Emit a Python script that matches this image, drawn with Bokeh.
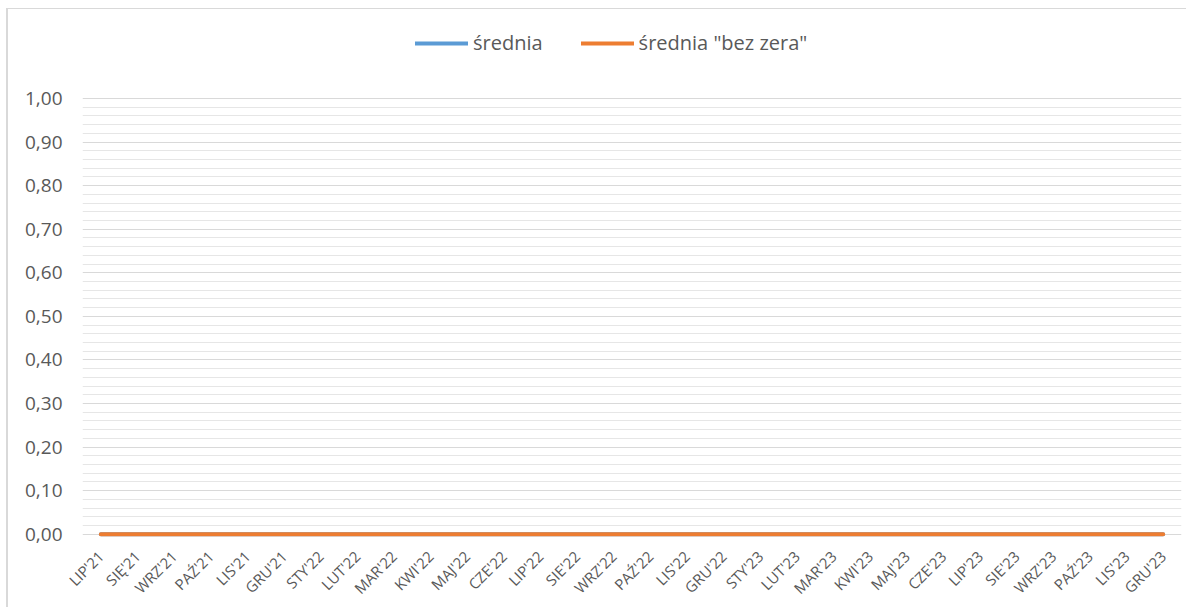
import math
from bokeh.plotting import figure
from bokeh.models import FactorRange, Range1d, FixedTicker, CustomJSTickFormatter, Legend, LegendItem
from bokeh.embed import file_html
from bokeh.resources import INLINE

months = ["LIP'21", "SIĘ'21", "WRZ'21", "PAŹ'21", "LIS'21", "GRU'21",
          "STY'22", "LUT'22", "MAR'22", "KWI'22", "MAJ'22", "CZE'22",
          "LIP'22", "SIE'22", "WRZ'22", "PAŹ'22", "LIS'22", "GRU'22",
          "STY'23", "LUT'23", "MAR'23", "KWI'23", "MAJ'23", "CZE'23",
          "LIP'23", "SIE'23", "WRZ'23", "PAŹ'23", "LIS'23", "GRU'23"]
srednia = [0.0] * 30
srednia_bez_zera = [0.0] * 30
series_names = ["średnia", "średnia \"bez zera\""]
y_major = [round(i * 0.1, 2) for i in range(11)]
y_minor = [round(i * 0.02, 2) for i in range(51) if i % 5 != 0]

FONT = "Open Sans"
TXT = "#595959"

p = figure(width=1180, height=599, output_backend="svg", toolbar_location=None,
           x_range=FactorRange(*months, range_padding=0), y_range=Range1d(-0.012, 1.1835),
           min_border_left=74, min_border_right=7, min_border_top=9, min_border_bottom=69)
p.styles = {"border-left": "2px solid #D9D9D9", "border-top": "1px solid #D9D9D9",
            "margin-top": "8px", "margin-left": "6px"}
p.outline_line_color = None

l1 = p.line(months, srednia, line_color="#5B9BD5", line_width=4, line_cap="round")
l2 = p.line(months, srednia_bez_zera, line_color="#ED7D31", line_width=4, line_cap="round")

p.yaxis.ticker = FixedTicker(ticks=y_major, minor_ticks=y_minor)
p.yaxis.formatter = CustomJSTickFormatter(code="return tick.toFixed(2).replace('.', ',');")
p.yaxis.axis_line_color = None
p.yaxis.major_tick_line_color = None
p.yaxis.minor_tick_line_color = None
p.yaxis.major_label_text_font = FONT
p.yaxis.major_label_text_font_size = "19px"
p.yaxis.major_label_text_color = TXT
p.yaxis.major_label_standoff = 14

p.xaxis.axis_line_color = None
p.xaxis.major_tick_line_color = None
p.xaxis.minor_tick_line_color = None
p.xaxis.major_label_orientation = math.pi / 4
p.xaxis.major_label_text_font = FONT
p.xaxis.major_label_text_font_size = "15px"
p.xaxis.major_label_text_color = TXT
p.xaxis.major_label_standoff = 8

p.xgrid.grid_line_color = None
p.ygrid.grid_line_color = "#D9D9D9"
p.ygrid.minor_grid_line_color = "#E6E6E6"

legend = Legend(items=[LegendItem(label=series_names[0], renderers=[l1]),
                       LegendItem(label=series_names[1], renderers=[l2])],
                orientation="horizontal", location=(333, 483),
                label_text_font=FONT, label_text_font_size="20px", label_text_color=TXT,
                glyph_width=53, glyph_height=20, label_standoff=5, spacing=38,
                padding=0, margin=0,
                border_line_color=None, background_fill_alpha=0)
p.add_layout(legend, "center")

open("out.html", "w").write(file_html(p, INLINE))
